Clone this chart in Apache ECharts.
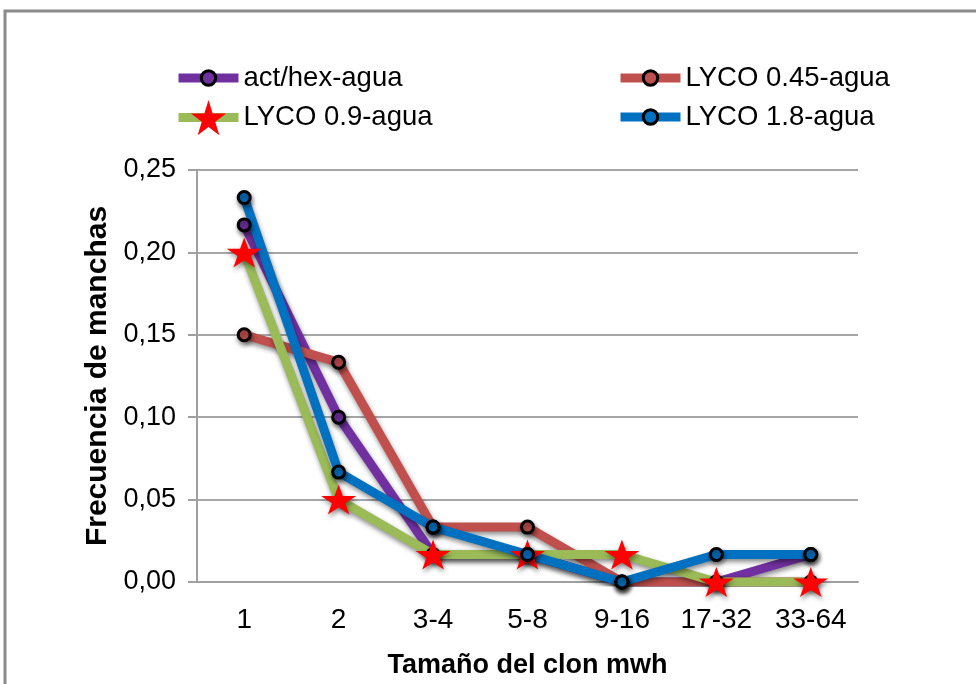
<!DOCTYPE html>
<html>
<head>
<meta charset="utf-8">
<script src="https://cdn.jsdelivr.net/npm/echarts@6/dist/echarts.min.js"></script>
<style>
  html, body { margin: 0; padding: 0; background: #fff; }
  #chart { width: 976px; height: 684px; }
</style>
</head>
<body>
<div id="chart"></div>
<script>
// Clone size classes (x axis)
const categories = ['1', '2', '3-4', '5-8', '9-16', '17-32', '33-64'];

// Spot frequency per clone size class
const actHex   = [0.2167, 0.1000, 0.0167, 0.0167, 0.0000, 0.0000, 0.0167];
const lyco045  = [0.1500, 0.1333, 0.0333, 0.0333, 0.0000, 0.0000, 0.0000];
const lyco09   = [0.2000, 0.0500, 0.0167, 0.0167, 0.0167, 0.0000, 0.0000];
const lyco18   = [0.2333, 0.0667, 0.0333, 0.0167, 0.0000, 0.0167, 0.0167];

const seriesNames = ['act/hex-agua', 'LYCO 0.45-agua', 'LYCO 0.9-agua', 'LYCO 1.8-agua'];
const yTicks = [0, 0.05, 0.10, 0.15, 0.20, 0.25];

const FONT = '"Liberation Sans", Arial, sans-serif';
const STAR = 'path://M50,0 L61.2,34.5 L97.6,34.5 L68.2,55.9 L79.4,90.5 L50,69.1 L20.6,90.5 L31.8,55.9 L2.4,34.5 L38.8,34.5 Z';

const shadow = { shadowColor: 'rgba(0,0,0,0.45)', shadowBlur: 5, shadowOffsetX: 1, shadowOffsetY: 3 };
const legendText = { fontSize: 27.5, color: '#000', fontFamily: FONT };

function circleSeries(name, data, color) {
  return {
    name, type: 'line', data,
    symbol: 'circle', symbolSize: 12,
    lineStyle: Object.assign({ color, width: 9 }, shadow),
    itemStyle: Object.assign({ color, borderColor: '#000', borderWidth: 3 }, shadow),
    emphasis: { disabled: true }
  };
}

const chart = echarts.init(document.getElementById('chart'));
chart.setOption({
  animation: false,
  backgroundColor: '#fff',
  textStyle: { fontFamily: FONT },
  graphic: [{
    type: 'rect', silent: true,
    shape: { x: 5, y: 11, width: 1000, height: 700 },
    style: { fill: 'none', stroke: '#8a8a8a', lineWidth: 3 }
  }],
  grid: { left: 197, right: 118, top: 170, bottom: 102 },
  legend: [
    {
      data: [seriesNames[0]], left: 169, top: 59, itemWidth: 60, itemHeight: 18,
      textStyle: legendText,
      lineStyle: { width: 9 }, itemStyle: { borderColor: '#000', borderWidth: 3 }
    },
    {
      data: [seriesNames[2]], left: 169, top: 95, itemWidth: 60, itemHeight: 44,
      textStyle: legendText,
      lineStyle: { width: 9 }, itemStyle: { borderWidth: 0 }
    },
    {
      data: [seriesNames[1], seriesNames[3]], orient: 'vertical', left: 611, top: 59,
      itemWidth: 60, itemHeight: 18, itemGap: 11,
      textStyle: legendText,
      lineStyle: { width: 9 }, itemStyle: { borderColor: '#000', borderWidth: 3 }
    }
  ],
  xAxis: {
    type: 'category', data: categories, boundaryGap: true,
    axisLine: { lineStyle: { color: '#a0a0a0', width: 2 } },
    axisTick: { show: false },
    axisLabel: { fontSize: 28, color: '#000', margin: 24 },
    name: 'Tamaño del clon mwh', nameLocation: 'middle', nameGap: 70,
    nameTextStyle: { fontSize: 27, fontWeight: 'bold', color: '#000' }
  },
  yAxis: {
    type: 'value', min: 0, max: 0.25, interval: 0.05,
    axisLine: { show: true, lineStyle: { color: '#a0a0a0', width: 2 } },
    axisTick: { show: true, length: 9, lineStyle: { color: '#a0a0a0', width: 2 } },
    splitLine: { lineStyle: { color: '#a6a6a6', width: 2 } },
    axisLabel: {
      fontSize: 27, color: '#000', margin: 21,
      formatter: v => yTicks.reduce((a, t) => Math.abs(t - v) < 1e-9 ? t : a, v).toFixed(2).replace('.', ',')
    },
    name: 'Frecuencia de manchas', nameLocation: 'middle', nameGap: 82,
    nameTextStyle: { fontSize: 30, fontWeight: 'bold', color: '#000' }
  },
  series: [
    circleSeries(seriesNames[0], actHex, '#7030A0'),
    circleSeries(seriesNames[1], lyco045, '#C0504D'),
    {
      name: seriesNames[2], type: 'line', data: lyco09,
      symbol: STAR, symbolSize: [35, 30],
      lineStyle: Object.assign({ color: '#9BBB59', width: 9 }, shadow),
      itemStyle: Object.assign({ color: '#FF0000', borderWidth: 0 }, shadow),
      emphasis: { disabled: true }
    },
    circleSeries(seriesNames[3], lyco18, '#0070C0')
  ]
});
</script>
</body>
</html>
